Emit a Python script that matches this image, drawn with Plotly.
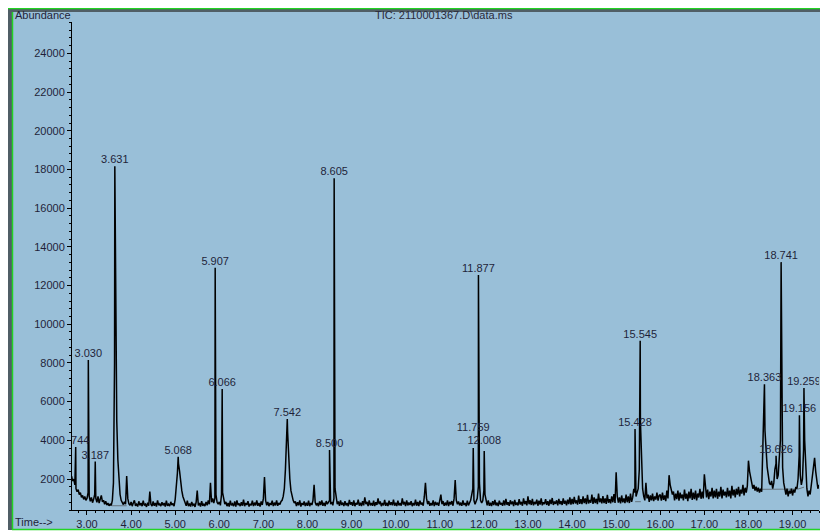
import plotly.graph_objects as go

# ---------------- data ----------------
scan_step = 0.025      # min between listed scans
# (block start time in min, abundances read every scan_step from that time)
scan_blocks = [
    (2.65, [2150, 1900, 2000, 1700, 1500, 1350, 1450, 1200, 1300, 1050, 1150, 950, 1100, 900]),
    (3.00, [1000, 1300, 1100, 850, 1050, 780, 950, 1200, 1000, 800,
            1100, 760, 980, 1150, 820, 900, 700, 850, 650, 760,
            620, 700, 640, 900, 1800, 8000, 9500, 5000, 3000, 1800,
            1200, 900, 760, 680, 820, 700, 2150, 1000, 720, 640]),
    (4.00, [820, 600, 760, 900, 620, 700, 580, 850, 640, 760,
            600, 880, 640, 700, 560, 780, 620, 1350, 700, 600,
            840, 620, 760, 580, 900, 650, 720, 600, 800, 640,
            760, 580, 880, 620, 700, 600, 820, 660, 740, 600]),
    (5.00, [950, 1500, 2300, 2800, 2400, 1800, 1400, 1100, 900, 760,
            620, 880, 600, 740, 580, 820, 640, 700, 560, 800,
            1400, 640, 760, 580, 860, 620, 700, 600, 820, 640,
            900, 700, 1800, 800, 1000, 760, 1000, 1200, 800, 700]),
    (6.00, [820, 640, 1200, 1300, 900, 700, 820, 600, 760, 580,
            880, 640, 720, 600, 840, 580, 900, 660, 740, 600,
            800, 620, 940, 600, 760, 660, 860, 580, 720, 640,
            880, 600, 780, 640, 900, 620, 760, 580, 840, 660]),
    (7.00, [1000, 2100, 900, 640, 820, 600, 760, 660, 880, 600,
            780, 640, 900, 620, 760, 680, 840, 900, 1100, 1500,
            2500, 4200, 4400, 3000, 2000, 1400, 1100, 900, 760, 840,
            600, 800, 640, 900, 580, 760, 660, 840, 600, 780]),
    (8.00, [620, 880, 600, 760, 660, 900, 1700, 800, 640, 760,
            600, 840, 660, 900, 620, 780, 600, 860, 700, 800,
            900, 700, 820, 640, 1000, 1500, 900, 700, 840, 620,
            900, 660, 780, 600, 860, 640, 760, 600, 920, 680]),
    (9.00, [800, 620, 900, 600, 760, 680, 940, 620, 780, 600,
            860, 640, 1050, 700, 820, 600, 900, 640, 760, 620,
            880, 600, 800, 660, 1000, 700, 840, 600, 760, 640,
            920, 620, 780, 600, 880, 660, 800, 640, 940, 620]),
    (10.00, [780, 600, 880, 640, 760, 620, 1000, 680, 820, 600,
             900, 640, 780, 660, 860, 600, 760, 640, 940, 620,
             820, 600, 880, 680, 780, 620, 1100, 1800, 1000, 700,
             860, 620, 760, 640, 900, 600, 820, 660, 780, 620]),
    (11.00, [900, 1200, 700, 860, 620, 780, 640, 900, 600, 820,
             680, 860, 620, 1000, 1950, 900, 700, 840, 640, 780,
             620, 900, 660, 760, 600, 880, 640, 800, 900, 1200,
             1500, 900, 700, 860, 1000, 1600, 1800, 900, 760, 880]),
    (12.00, [1400, 1200, 800, 640, 900, 620, 780, 600, 860, 660,
             920, 640, 780, 600, 880, 680, 760, 620, 900, 640,
             980, 660, 800, 620, 900, 700, 840, 600, 920, 660,
             780, 640, 960, 680, 820, 620, 1000, 700, 860, 640]),
    (13.00, [1100, 700, 900, 660, 980, 640, 820, 700, 940, 620,
             880, 680, 1000, 640, 800, 700, 960, 660, 860, 620,
             940, 700, 1020, 660, 840, 720, 900, 640, 980, 700,
             860, 660, 1000, 720, 880, 640, 940, 700, 1050, 680]),
    (14.00, [980, 700, 1080, 740, 900, 680, 1150, 720, 960, 700,
             1100, 760, 1000, 700, 1180, 740, 920, 780, 1200, 720,
             1050, 760, 980, 700, 1250, 800, 1000, 740, 1120, 760,
             1000, 720, 1180, 780, 960, 740, 1100, 800, 1220, 760]),
    (15.00, [2350, 1100, 780, 1050, 740, 1150, 800, 1000, 760, 1200,
             800, 1100, 760, 1250, 820, 1050, 1500, 1300, 1100, 1300,
             1500, 2500, 5000, 2800, 1500, 1100, 900, 1800, 1000, 1200,
             820, 1150, 900, 1250, 860, 1100, 940, 1300, 880, 1150]),
    (16.00, [1200, 880, 1300, 920, 1150, 860, 1400, 1000, 2200, 1700,
             1450, 1200, 1350, 900, 1250, 960, 1400, 880, 1300, 1000,
             1200, 900, 1450, 980, 1250, 860, 1350, 1000, 1500, 920,
             1300, 960, 1400, 900, 1250, 1050, 1500, 980, 1350, 1000]),
    (17.00, [2250, 1400, 1050, 1450, 960, 1350, 1100, 1550, 1000, 1400,
             1050, 1500, 980, 1350, 1100, 1600, 1000, 1450, 1150, 1350,
             1050, 1550, 1100, 1400, 1000, 1650, 1150, 1450, 1050, 1500,
             1200, 1600, 1100, 1450, 1250, 1700, 1150, 1550, 1300, 1650]),
    (18.00, [2950, 2400, 2000, 1800, 1500, 1700, 1400, 1600, 1350, 1550,
             1300, 1500, 1350, 3500, 5500, 4500, 3200, 2600, 2200, 1800,
             1700, 1900, 1500, 1800, 2500, 2800, 2000, 2200, 3000, 4000,
             8000, 2600, 1800, 1400, 1200, 1500, 1100, 1400, 1250, 1500]),
    (19.00, [1150, 1450, 1300, 1600, 1500, 2000, 3200, 2200, 1700, 2000,
             3500, 4000, 2200, 1500, 1100, 1400, 1200, 1700, 2000, 2400,
             3100, 2400, 1800, 1500, 1700]),
]

peak_labels = ["2.744", "3.030", "3.187", "3.631", "5.068", "5.907", "6.066",
               "7.542", "8.500", "8.605", "11.759", "11.877", "12.008",
               "15.428", "15.545", "18.363", "18.626", "18.741", "19.156", "19.259"]
peak_rt = [2.744, 3.030, 3.187, 3.631, 5.068, 5.907, 6.066,
           7.542, 8.500, 8.605, 11.759, 11.877, 12.008,
           15.428, 15.545, 18.363, 18.626, 18.741, 19.156, 19.259]
peak_abundance = [3650, 8150, 2900, 18170, 3150, 12920, 6650,
                  5100, 3500, 17550, 3600, 12540, 3450,
                  4580, 9150, 6900, 3200, 13210, 5300, 6700]
label_lift = [0, 0, 0, 0, 0, 0, 0,
              0, 0, 0, 750, 0, 200,
              0, 0, 0, 0, 0, 0, 0]

# integration baselines drawn by the data system
integ_rt = [3.56, 3.90, None, 15.43, 15.56, None, 18.31, 19.12, 19.26]
integ_abundance = [620, 620, None, 830, 830, None, 1470, 1480, 1580]

title_text = "TIC: 2110001367.D\\data.ms"
y_title = "Abundance"
x_title = "Time-->"

# ---------------- build trace ----------------
points = []
for start, vals in scan_blocks:
    for i, a in enumerate(vals):
        points.append((round(start + i * scan_step, 4), a, 0))
points += [(t, a, 1) for t, a in zip(peak_rt, peak_abundance)]
points.sort(key=lambda p: (p[0], p[2]))
trace_rt = [p[0] for p in points]
trace_ab = [p[1] for p in points]
label_y = [a + l for a, l in zip(peak_abundance, label_lift)]

# ---------------- layout geometry ----------------
OFF = 8                      # page body margin offset of the figure div
W, H = 820, 524
ML, MR, MT, MB = 64, 9, 14, 22
PW, PH = W - ML - MR, H - MT - MB


def px(x):                   # page pixel -> paper x
    return (x - OFF - ML) / PW


def py(y):                   # page pixel -> paper y
    return (H - MB - (y - OFF)) / PH


BLUE = "#99bfd8"
GREY = "#505e66"
GREEN = "#22d422"
TXT = "#1f1f3a"
FONT = "Liberation Sans, Arial, sans-serif"

fig = go.Figure()

fig.add_trace(go.Scatter(
    x=integ_rt, y=integ_abundance, mode="lines",
    line=dict(color="#66747e", width=1), hoverinfo="skip", showlegend=False))

fig.add_trace(go.Scatter(
    x=trace_rt, y=trace_ab, mode="lines",
    line=dict(color="black", width=1.5), hoverinfo="skip", showlegend=False))

fig.add_trace(go.Scatter(
    x=peak_rt, y=label_y, mode="text", text=peak_labels,
    textposition="top center", cliponaxis=True,
    textfont=dict(family=FONT, size=11, color=TXT),
    hoverinfo="skip", showlegend=False))

shapes = [
    dict(type="rect", xref="paper", yref="paper", x0=px(12), x1=px(826), y0=py(529), y1=py(12),
         fillcolor=BLUE, line=dict(width=0), layer="below"),
    dict(type="rect", xref="paper", yref="paper", x0=px(5), x1=px(826), y0=py(12), y1=py(8),
         fillcolor=GREY, line=dict(width=0), layer="below"),
    dict(type="rect", xref="paper", yref="paper", x0=px(5), x1=px(12), y0=py(530), y1=py(8),
         fillcolor=GREY, line=dict(width=0), layer="below"),
    dict(type="line", xref="paper", yref="paper", x0=px(5), x1=px(827), y0=py(8.5), y1=py(8.5),
         line=dict(color=GREEN, width=1.5), layer="below"),
    dict(type="line", xref="paper", yref="paper", x0=px(12.5), x1=px(12.5), y0=py(529.5), y1=py(12),
         line=dict(color=GREEN, width=1.5), layer="below"),
    dict(type="line", xref="paper", yref="paper", x0=px(826), x1=px(826), y0=py(529.5), y1=py(8),
         line=dict(color=GREEN, width=1.5), layer="below"),
    dict(type="line", xref="paper", yref="paper", x0=px(12), x1=px(826.5), y0=py(529.5), y1=py(529.5),
         line=dict(color=GREEN, width=1.5), layer="below"),
]

annotations = [
    dict(text=title_text, xref="paper", yref="paper", x=px(444), y=py(15),
         xanchor="center", yanchor="middle", showarrow=False,
         font=dict(family=FONT, size=11, color="#2a2a3a")),
    dict(text=y_title, xref="paper", yref="paper", x=px(13), y=py(15),
         xanchor="left", yanchor="middle", showarrow=False,
         font=dict(family=FONT, size=11, color=TXT)),
    dict(text=x_title, xref="paper", yref="paper", x=px(13), y=py(521.5),
         xanchor="left", yanchor="middle", showarrow=False,
         font=dict(family=FONT, size=11, color=TXT)),
]

fig.update_layout(
    width=W, height=H,
    margin=dict(l=ML, r=MR, t=MT, b=MB, pad=0, autoexpand=False),
    paper_bgcolor="white", plot_bgcolor=BLUE,
    shapes=shapes, annotations=annotations,
    showlegend=False,
    font=dict(family=FONT, size=11, color=TXT),
)

fig.update_xaxes(
    range=[2.66, 19.60], showgrid=False, zeroline=False, automargin=False,
    showline=True, linecolor="black", linewidth=1,
    ticks="outside", ticklen=4, tickwidth=1, tickcolor="black",
    tick0=0, dtick=1, tickformat=".2f",
    tickfont=dict(family=FONT, size=11, color=TXT),
    minor=dict(ticks="outside", ticklen=2, tickcolor="black", dtick=0.2, tick0=0, showgrid=False),
)
fig.update_yaxes(
    range=[400, 25620], showgrid=False, zeroline=False, automargin=False,
    showline=True, linecolor="black", linewidth=1,
    ticks="outside", ticklen=4, tickwidth=1, tickcolor="black",
    tick0=0, dtick=2000, tickformat="d",
    tickfont=dict(family=FONT, size=11, color=TXT),
    minor=dict(ticks="outside", ticklen=2, tickcolor="black", dtick=400, tick0=0, showgrid=False),
)

fig.write_html("out.html")
